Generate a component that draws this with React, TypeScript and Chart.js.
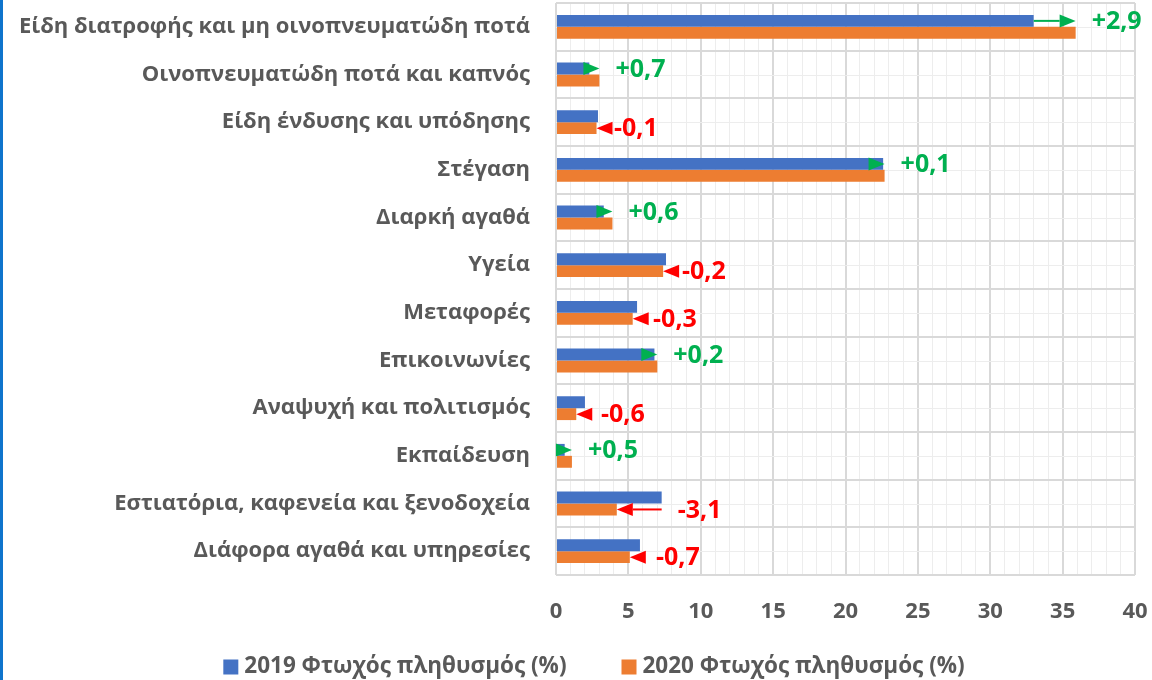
import React, { useEffect, useRef } from "react";
import { Chart, registerables } from "chart.js";

Chart.register(...registerables);

const categories = [
  "Είδη διατροφής και μη οινοπνευματώδη ποτά",
  "Οινοπνευματώδη ποτά και καπνός",
  "Είδη ένδυσης και υπόδησης",
  "Στέγαση",
  "Διαρκή αγαθά",
  "Υγεία",
  "Μεταφορές",
  "Επικοινωνίες",
  "Αναψυχή και πολιτισμός",
  "Εκπαίδευση",
  "Εστιατόρια, καφενεία και ξενοδοχεία",
  "Διάφορα αγαθά και υπηρεσίες",
];

const values2019 = [33.0, 2.3, 2.9, 22.6, 3.3, 7.6, 5.6, 6.8, 2.0, 0.6, 7.3, 5.8];
const values2020 = [35.9, 3.0, 2.8, 22.7, 3.9, 7.4, 5.3, 7.0, 1.4, 1.1, 4.2, 5.1];
const changes = [2.9, 0.7, -0.1, 0.1, 0.6, -0.2, -0.3, 0.2, -0.6, 0.5, -3.1, -0.7];

const series2019Label = "2019 Φτωχός πληθυσμός (%)";
const series2020Label = "2020 Φτωχός πληθυσμός (%)";

const xMin = 0;
const xMax = 40;
const xMajorStep = 5;

const FONT = "'Open Sans', 'Noto Sans', sans-serif";
const TEXT_GRAY = "#595959";
const GREEN = "#00B050";
const RED = "#FF0000";
const BLUE = "#4472C4";
const ORANGE = "#ED7D31";

const PAD_LEFT = 5;
const PAD_RIGHT = 17;
const PAD_TOP = 3;
const PLOT_LEFT = 556;
const PLOT_BOTTOM = 575;
const CANVAS_W = 1152;
const CANVAS_H = 680;

const LEGEND_CENTER_X = 594;
const LEGEND_CENTER_Y = 667;
const LEGEND_BOX = 15;
const LEGEND_TEXT_GAP = 6;
const LEGEND_ITEM_GAP = 55;

const isMajor = (v: number) => Math.abs(v / xMajorStep - Math.round(v / xMajorStep)) < 1e-6;

const minorGridPlugin = {
  id: "minorGrid",
  beforeDatasetsDraw(chart: any) {
    const { ctx, chartArea, scales } = chart;
    const y = scales.y;
    ctx.save();
    ctx.strokeStyle = "#EDEDED";
    ctx.lineWidth = 1;
    for (let i = 0; i < categories.length; i++) {
      const py = Math.round(y.getPixelForValue(i)) + 0.5;
      ctx.beginPath();
      ctx.moveTo(chartArea.left, py);
      ctx.lineTo(chartArea.right, py);
      ctx.stroke();
    }
    ctx.restore();
  },
};

const arrowPlugin = {
  id: "changeArrows",
  afterDatasetsDraw(chart: any) {
    const { ctx, scales } = chart;
    const x = scales.x;
    const meta0 = chart.getDatasetMeta(0);
    const meta1 = chart.getDatasetMeta(1);
    const headLen = 16;
    const headHalf = 6.5;
    ctx.save();
    for (let i = 0; i < categories.length; i++) {
      const c = changes[i];
      const up = c >= 0;
      const color = up ? GREEN : RED;
      const xb = x.getPixelForValue(values2019[i]);
      const xo = x.getPixelForValue(values2020[i]);
      const yy = up ? meta0.data[i].y : meta1.data[i].y;
      const dir = xo >= xb ? 1 : -1;
      const baseX = xo - dir * headLen;
      ctx.strokeStyle = color;
      ctx.fillStyle = color;
      ctx.lineWidth = 2;
      if ((baseX - xb) * dir > 0) {
        ctx.beginPath();
        ctx.moveTo(xb, yy);
        ctx.lineTo(baseX, yy);
        ctx.stroke();
      }
      ctx.beginPath();
      ctx.moveTo(xo, yy);
      ctx.lineTo(baseX, yy - headHalf);
      ctx.lineTo(baseX, yy + headHalf);
      ctx.closePath();
      ctx.fill();

      const txt = (up ? "+" : "-") + Math.abs(c).toFixed(1).replace(".", ",");
      ctx.font = `bold 25px ${FONT}`;
      ctx.textAlign = "left";
      ctx.textBaseline = "middle";
      ctx.fillText(txt, Math.max(xb, xo) + 16, yy + 1);
    }
    ctx.restore();
  },
};

const legendPlugin = {
  id: "bottomLegend",
  afterDraw(chart: any) {
    const { ctx } = chart;
    const items = chart.data.datasets.map((ds: any) => ({
      text: ds.label as string,
      color: ds.backgroundColor as string,
    }));
    ctx.save();
    ctx.font = `bold 22.5px ${FONT}`;
    const widths = items.map((it: any) => ctx.measureText(it.text).width);
    let total = 0;
    widths.forEach((w: number, i: number) => {
      total += LEGEND_BOX + LEGEND_TEXT_GAP + w + (i > 0 ? LEGEND_ITEM_GAP : 0);
    });
    let cx = LEGEND_CENTER_X - total / 2;
    ctx.textAlign = "left";
    ctx.textBaseline = "middle";
    items.forEach((it: any, i: number) => {
      ctx.fillStyle = it.color;
      ctx.fillRect(cx, LEGEND_CENTER_Y - LEGEND_BOX / 2, LEGEND_BOX, LEGEND_BOX);
      cx += LEGEND_BOX + LEGEND_TEXT_GAP;
      ctx.fillStyle = TEXT_GRAY;
      ctx.fillText(it.text, cx, LEGEND_CENTER_Y);
      cx += widths[i] + LEGEND_ITEM_GAP;
    });
    ctx.restore();
  },
};

export default function App() {
  const canvasRef = useRef<HTMLCanvasElement | null>(null);

  useEffect(() => {
    if (!canvasRef.current) return;
    const chart = new Chart(canvasRef.current, {
      type: "bar",
      data: {
        labels: categories,
        datasets: [
          {
            label: series2019Label,
            data: values2019,
            backgroundColor: BLUE,
            categoryPercentage: 0.5,
            barPercentage: 1.0,
          },
          {
            label: series2020Label,
            data: values2020,
            backgroundColor: ORANGE,
            categoryPercentage: 0.5,
            barPercentage: 1.0,
          },
        ],
      },
      options: {
        indexAxis: "y",
        responsive: false,
        animation: false,
        layout: { padding: { left: PAD_LEFT, right: PAD_RIGHT, top: PAD_TOP, bottom: 0 } },
        plugins: {
          legend: { display: false },
          tooltip: { enabled: false },
        },
        scales: {
          x: {
            type: "linear",
            min: xMin,
            max: xMax,
            afterFit(scale: any) {
              scale.height = CANVAS_H - PLOT_BOTTOM;
              scale.paddingLeft = 0;
              scale.paddingRight = 0;
              scale.paddingTop = 0;
              scale.paddingBottom = 0;
            },
            ticks: {
              stepSize: 1,
              maxTicksLimit: 1000,
              autoSkip: false,
              maxRotation: 0,
              padding: 24,
              color: TEXT_GRAY,
              font: { family: FONT, size: 22, weight: "bold" },
              callback: (v: any) => (isMajor(Number(v)) ? String(Math.round(Number(v))) : ""),
            },
            grid: {
              drawTicks: false,
              color: (ctx: any) => (ctx.tick && isMajor(ctx.tick.value) ? "#D9D9D9" : "#EDEDED"),
              lineWidth: (ctx: any) => (ctx.tick && isMajor(ctx.tick.value) ? 2 : 1),
            },
            border: { display: false },
          },
          y: {
            afterFit(scale: any) {
              scale.width = PLOT_LEFT - PAD_LEFT;
              scale.paddingTop = 0;
              scale.paddingBottom = 0;
              scale.paddingLeft = 0;
              scale.paddingRight = 0;
            },
            ticks: {
              padding: 26,
              color: TEXT_GRAY,
              font: { family: FONT, size: 22, weight: "bold" },
            },
            grid: {
              drawTicks: false,
              offset: true,
              color: "#D9D9D9",
              lineWidth: 2,
            },
            border: { display: false },
          },
        },
      },
      plugins: [minorGridPlugin, arrowPlugin, legendPlugin],
    });
    return () => chart.destroy();
  }, []);

  return (
    <div
      style={{
        position: "fixed",
        left: 0,
        top: 0,
        width: CANVAS_W,
        height: CANVAS_H,
        background: "#FFFFFF",
        overflow: "hidden",
      }}
    >
      <canvas
        ref={canvasRef}
        width={CANVAS_W}
        height={CANVAS_H}
        style={{ position: "absolute", left: 0, top: 0, width: CANVAS_W, height: CANVAS_H }}
      />
      <div
        style={{
          position: "absolute",
          left: 0,
          top: 0,
          width: 3,
          height: CANVAS_H,
          background: "#0E74CC",
        }}
      />
    </div>
  );
}
